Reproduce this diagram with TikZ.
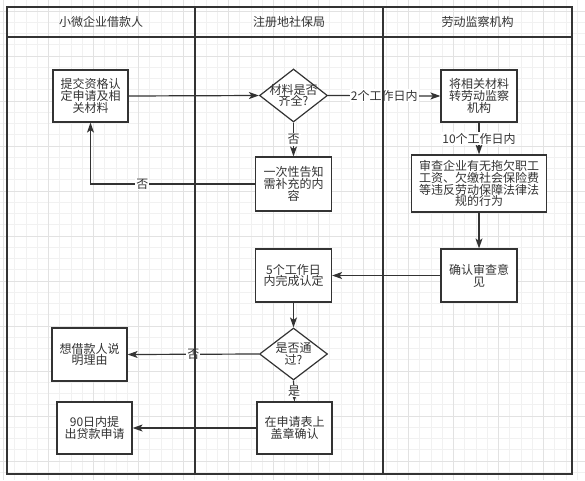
\documentclass[tikz,border=0pt]{standalone}
\usepackage{fontspec}
\setmainfont{Noto Sans CJK SC}
\usetikzlibrary{arrows.meta,shapes.geometric}
\definecolor{ink}{HTML}{333333}
\definecolor{gridminor}{HTML}{F1F1F1}
\definecolor{gridmajor}{HTML}{E2E2E2}
\begin{document}
\begin{tikzpicture}[x=1pt,y=-1pt,
  txt/.style={text=ink, align=center, font=\fontsize{12}{11.8}\selectfont, inner sep=0pt},
  box/.style={txt, draw=ink, line width=1.2pt, fill=white, minimum width=75pt, minimum height=52pt},
  dia/.style={draw=ink, line width=1.2pt, fill=white, diamond, inner sep=0pt, minimum width=68pt, minimum height=53pt},
  lab/.style={txt, fill=white, inner sep=1pt},
  edge/.style={draw=ink, line width=1.2pt, -{Stealth[length=10pt,width=7pt,inset=2.5pt]}},
  frame/.style={draw=ink, line width=1.6pt},
  hdr/.style={text=ink, font=\fontsize{12}{12}\selectfont, inner sep=0pt}]
\useasboundingbox (0,0) rectangle (585,480);
\fill[white] (0,0) rectangle (585,480);
% grid
\foreach \i in {0,...,51} \draw[gridminor, line width=0.6pt] ({3.3+11.25*\i},0) -- ({3.3+11.25*\i},480);
\foreach \i in {0,...,41} \draw[gridminor, line width=0.6pt] (0,{11+11.25*\i}) -- (585,{11+11.25*\i});
\foreach \i in {0,...,12} \draw[gridmajor, line width=0.6pt] ({3.3+45*\i},0) -- ({3.3+45*\i},480);
\foreach \i in {0,...,10} \draw[gridmajor, line width=0.6pt] (0,{11+45*\i}) -- (585,{11+45*\i});
% headers
\node[hdr] (h1) at (101,22) {小微企业借款人};
\node[hdr] (h2) at (289,22) {注册地社保局};
\node[hdr] (h3) at (477.5,22) {劳动监察机构};
% nodes
\node[box] (b1) at (90.5,96) {提交资格认\\定申请及相\\关材料};
\node[dia] (d1) at (293.5,95.5) {};
\node[txt] (d1t) at (d1) {材料是否\\齐全?};
\node[box, minimum width=76pt] (b2) at (479,96) {将相关材料\\转劳动监察\\机构};
\node[box, minimum width=76pt, minimum height=54pt] (b3) at (293.5,184) {一次性告知\\需补充的内\\容};
\node[box, minimum width=135pt, minimum height=57pt] (b4) at (479,183.5) {审查企业有无拖欠职工\\工资、欠缴社会保险费\\等违反劳动保障法律法\\规的行为};
\node[box, minimum width=76pt, minimum height=53pt] (b5) at (479,275.5) {确认审查意\\见};
\node[box, minimum width=76pt, minimum height=53pt] (b6) at (293.5,275.5) {5个工作日\\内完成认定};
\node[dia, minimum height=52pt] (d2) at (293.5,354) {};
\node[txt] (d2t) at (d2) {是否通\\过?};
\node[box, minimum height=53pt] (b7) at (89.5,354.5) {想借款人说\\明理由};
\node[box] (b8) at (294.5,428) {在申请表上\\盖章确认};
\node[box] (b9) at (94.5,428) {90日内提\\出贷款申请};
% edges
\draw[edge] (b1.east) -- (d1.west);
\draw[edge] (d1.east) -- node[lab] (l1) {2个工作日内} (b2.west);
\draw[edge] (d1.south) -- node[lab] (l2) {否} (b3.north);
\draw[edge] (b3.west) -- node[lab, pos=0.685] (l3) {否} (b1.south |- b3.west) -- (b1.south);
\draw[edge] (b2.south) -- node[lab] (l4) {10个工作日内} (b4.north);
\draw[edge] (b4.south) -- (b5.north);
\draw[edge] (b5.west) -- (b6.east);
\draw[edge] (b6.south) -- (d2.north);
\draw[edge] (d2.west) -- node[lab] (l5) {否} (b7.east);
\draw[edge] (d2.south) -- node[lab] (l6) {是} (b8.north);
\draw[edge] (b8.west) -- (b9.east);
% swimlane frame
\draw[frame] (7,7) rectangle (572,474);
\draw[frame] (7,37) -- (572,37);
\draw[frame] (195,7) -- (195,474);
\draw[frame] (383,7) -- (383,474);
\end{tikzpicture}
\end{document}
